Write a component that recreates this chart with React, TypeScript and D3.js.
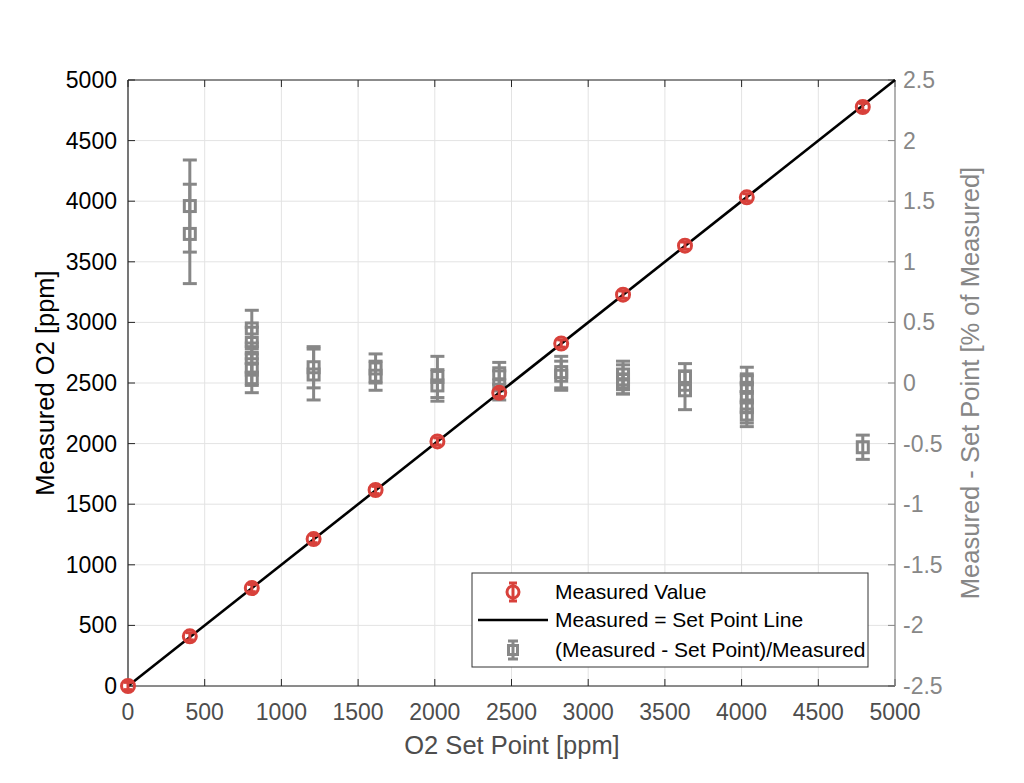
import React from "react";
import * as d3 from "d3";

const xTicks = [0, 500, 1000, 1500, 2000, 2500, 3000, 3500, 4000, 4500, 5000];
const yTicks = [0, 500, 1000, 1500, 2000, 2500, 3000, 3500, 4000, 4500, 5000];
const y2Ticks = [-2.5, -2, -1.5, -1, -0.5, 0, 0.5, 1, 1.5, 2, 2.5];

const setPoints = [0, 403, 807, 1210, 1614, 2017, 2420, 2824, 3227, 3631, 4034, 4790];
const measured = [0, 410, 808, 1212, 1617, 2018, 2419, 2826, 3229, 3633, 4032, 4777];
const measuredErr = [30, 30, 30, 30, 30, 30, 30, 30, 30, 30, 30, 30];

const devSet = [403, 403, 807, 807, 807, 807, 807, 1210, 1210, 1614, 1614, 2017, 2017, 2420, 2420, 2824, 2824, 3227, 3227, 3227, 3631, 3631, 4034, 4034, 4034, 4034, 4034, 4790];
const devValue = [1.46, 1.23, 0.45, 0.33, 0.21, 0.11, 0.04, 0.13, 0.07, 0.12, 0.06, 0.05, -0.02, 0.08, -0.02, 0.09, 0.06, 0.07, 0.03, -0.01, 0.05, -0.06, 0.03, -0.04, -0.12, -0.2, -0.26, -0.53];
const devErr = [0.38, 0.41, 0.15, 0.13, 0.12, 0.13, 0.12, 0.17, 0.21, 0.12, 0.12, 0.17, 0.13, 0.09, 0.12, 0.13, 0.12, 0.11, 0.12, 0.08, 0.11, 0.16, 0.1, 0.1, 0.12, 0.13, 0.1, 0.1];

const legendLabels = ["Measured Value", "Measured = Set Point Line", "(Measured - Set Point)/Measured"];

const W = 1024, H = 783;
const L = 128, R = 895, T = 80, B = 686;
const RED = "#d8413b";
const GREY = "#878787";
const AX = "#262626";
const FONT = "'Liberation Sans', Arial, Helvetica, sans-serif";

export default function App() {
  const x = d3.scaleLinear().domain([0, 5000]).range([L, R]);
  const y = d3.scaleLinear().domain([0, 5000]).range([B, T]);
  const y2 = d3.scaleLinear().domain([-2.5, 2.5]).range([B, T]);
  const line = d3.line<number>().x((d) => x(d)).y((d) => y(d));
  const tick = 7;
  const cap = 7;

  const leg = { x: 472, y: 573, w: 396, h: 94 };
  const rowY = [592, 620, 650];

  return (
    <svg width={W} height={H} style={{ position: "absolute", left: 0, top: 0, background: "#fff" }} fontFamily={FONT}>
      <rect x={0} y={0} width={W} height={H} fill="#fff" />
      <rect x={L} y={T} width={R - L} height={B - T} fill="#fff" />
      {/* grid */}
      {xTicks.map((t) => (
        <line key={"gx" + t} x1={x(t)} x2={x(t)} y1={T} y2={B} stroke="#e3e3e3" strokeWidth={1} />
      ))}
      {yTicks.map((t) => (
        <line key={"gy" + t} x1={L} x2={R} y1={y(t)} y2={y(t)} stroke="#e3e3e3" strokeWidth={1} />
      ))}
      {/* ticks */}
      {xTicks.map((t) => (
        <g key={"tx" + t}>
          <line x1={x(t)} x2={x(t)} y1={B} y2={B - tick} stroke={AX} strokeWidth={1} />
          <line x1={x(t)} x2={x(t)} y1={T} y2={T + tick} stroke={AX} strokeWidth={1} />
          <text x={x(t)} y={720} textAnchor="middle" fontSize={23} fill="#4d4d4d">{t}</text>
        </g>
      ))}
      {yTicks.map((t) => (
        <g key={"ty" + t}>
          <line x1={L} x2={L + tick} y1={y(t)} y2={y(t)} stroke={AX} strokeWidth={1} />
          <text x={117} y={y(t) + 8} textAnchor="end" fontSize={23} fill="#000">{t}</text>
        </g>
      ))}
      {y2Ticks.map((t) => (
        <g key={"ty2" + t}>
          <line x1={R} x2={R - tick} y1={y2(t)} y2={y2(t)} stroke={GREY} strokeWidth={1} />
          <text x={903} y={y2(t) + 8} textAnchor="start" fontSize={23} fill={GREY}>{t < 0 ? "-" + Math.abs(t) : String(t)}</text>
        </g>
      ))}
      {/* axes box */}
      <line x1={L} x2={R} y1={T} y2={T} stroke={AX} strokeWidth={1} />
      <line x1={L} x2={R} y1={B} y2={B} stroke={AX} strokeWidth={1} />
      <line x1={L} x2={L} y1={T} y2={B} stroke={AX} strokeWidth={1.2} />
      <line x1={R} x2={R} y1={T} y2={B} stroke={GREY} strokeWidth={1.2} />

      {/* grey deviation points */}
      <g stroke={GREY} strokeWidth={3} fill="none">
        {devSet.map((s, i) => {
          const cx = x(s);
          const top = y2(devValue[i] + devErr[i]);
          const bot = y2(devValue[i] - devErr[i]);
          const cy = y2(devValue[i]);
          return (
            <g key={"d" + i}>
              <line x1={cx} x2={cx} y1={top} y2={bot} />
              <line x1={cx - cap} x2={cx + cap} y1={top} y2={top} />
              <line x1={cx - cap} x2={cx + cap} y1={bot} y2={bot} />
              <rect x={cx - 5.5} y={cy - 5.5} width={11} height={11} />
            </g>
          );
        })}
      </g>

      {/* identity line */}
      <path d={line([0, 5000]) || ""} stroke="#000" strokeWidth={2.6} fill="none" />

      {/* red measured */}
      <g stroke={RED} strokeWidth={3} fill="none">
        {setPoints.map((s, i) => {
          const cx = x(s);
          const cy = y(measured[i]);
          const top = y(measured[i] + measuredErr[i]);
          const bot = y(measured[i] - measuredErr[i]);
          return (
            <g key={"m" + i}>
              <line x1={cx} x2={cx} y1={top} y2={bot} />
              <line x1={cx - 4} x2={cx + 4} y1={top} y2={top} />
              <line x1={cx - 4} x2={cx + 4} y1={bot} y2={bot} />
              <circle cx={cx} cy={cy} r={6.5} />
            </g>
          );
        })}
      </g>

      {/* axis labels */}
      <text x={512} y={754} textAnchor="middle" fontSize={25.5} fill="#4d4d4d">O2 Set Point [ppm]</text>
      <text transform={`translate(54,${(T + B) / 2}) rotate(-90)`} textAnchor="middle" fontSize={25.5} fill="#000">Measured O2 [ppm]</text>
      <text transform={`translate(979,${(T + B) / 2}) rotate(-90)`} textAnchor="middle" fontSize={25.5} fill={GREY}>Measured - Set Point [% of Measured]</text>

      {/* legend */}
      <g>
        <rect x={leg.x} y={leg.y} width={leg.w} height={leg.h} fill="#fff" stroke="#333" strokeWidth={1} />
        <g stroke={RED} strokeWidth={3} fill="none">
          <line x1={513} x2={513} y1={rowY[0] - 9} y2={rowY[0] + 9} />
          <line x1={509} x2={517} y1={rowY[0] - 9} y2={rowY[0] - 9} />
          <line x1={509} x2={517} y1={rowY[0] + 9} y2={rowY[0] + 9} />
          <circle cx={513} cy={rowY[0]} r={6} />
        </g>
        <line x1={478} x2={548} y1={rowY[1]} y2={rowY[1]} stroke="#000" strokeWidth={2.6} />
        <g stroke={GREY} strokeWidth={3} fill="none">
          <line x1={513} x2={513} y1={rowY[2] - 9} y2={rowY[2] + 9} />
          <line x1={508} x2={518} y1={rowY[2] - 9} y2={rowY[2] - 9} />
          <line x1={508} x2={518} y1={rowY[2] + 9} y2={rowY[2] + 9} />
          <rect x={508.5} y={rowY[2] - 4.5} width={9} height={9} />
        </g>
        {legendLabels.map((lab, i) => (
          <text key={lab} x={555} y={rowY[i] + 7} fontSize={21} fill="#000">{lab}</text>
        ))}
      </g>
    </svg>
  );
}
